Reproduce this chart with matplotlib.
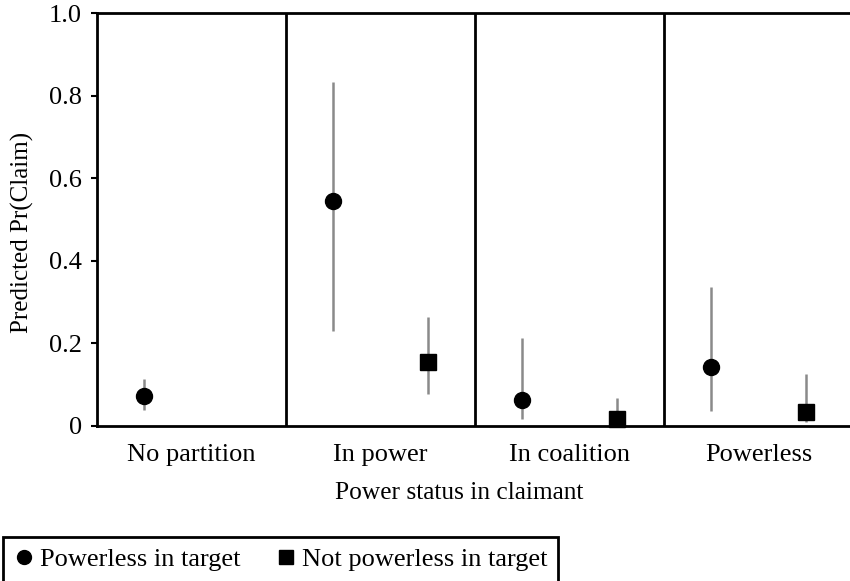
import matplotlib
matplotlib.use("Agg")
import matplotlib.pyplot as plt
import numpy as np

plt.rcParams['font.family'] = ['Liberation Serif', 'DejaVu Serif']

categories = ["No partition", "In power", "In coalition", "Powerless"]

# Powerless in target (circles), one per category
pl_cat = [0, 1, 2, 3]
pl_val = [0.073, 0.545, 0.063, 0.142]
pl_low = [0.039, 0.231, 0.016, 0.036]
pl_high = [0.113, 0.832, 0.214, 0.337]

# Not powerless in target (squares)
np_cat = [1, 2, 3]
np_val = [0.155, 0.017, 0.035]
np_low = [0.077, 0.000, 0.010]
np_high = [0.265, 0.069, 0.125]

yticks = [0, 0.2, 0.4, 0.6, 0.8, 1.0]
yticklabels = ["0", "0.2", "0.4", "0.6", "0.8", "1.0"]

W, H = 850, 581
fig = plt.figure(figsize=(W / 100, H / 100), dpi=100)
ax = fig.add_axes([97 / W, 1 - 426 / H, 756 / W, 413 / H])

offset = 0.25
err_color = "#8a8a8a"
x_pl = np.array(pl_cat) - offset
x_np = np.array(np_cat) + offset

ax.vlines(x_pl, pl_low, pl_high, color=err_color, lw=1.8, zorder=2)
ax.vlines(x_np, np_low, np_high, color=err_color, lw=1.8, zorder=2)
ax.plot(x_pl, pl_val, 'o', color='black', ms=11.5, ls='none', zorder=3,
        clip_on=False, label="Powerless in target")
ax.plot(x_np, np_val, 's', color='black', ms=11, ls='none', zorder=3,
        clip_on=False, label="Not powerless in target")

for b in [0.5, 1.5, 2.5]:
    ax.axvline(b, color='black', lw=2, zorder=1)

ax.set_xlim(-0.5, 3.5)
ax.set_ylim(0, 1.0)
ax.set_xticks(range(len(categories)))
ax.set_xticklabels(categories, fontsize=19)
ax.set_yticks(yticks)
ax.set_yticklabels(yticklabels, fontsize=19)
ax.tick_params(axis='x', length=0, pad=13)
ax.tick_params(axis='y', length=4, width=1.5, pad=7, direction='out')
for s in ax.spines.values():
    s.set_linewidth(2)

ax.set_xlabel("Power status in claimant", fontsize=18.3, labelpad=11.4,
              x=0.479)
fig.text(22 / W, 1 - 232 / H, "Predicted Pr(Claim)", rotation=90,
         ha='center', va='center', fontsize=18)

leg = fig.legend(loc='upper left', bbox_to_anchor=(3 / W, 1 - 537 / H),
                 ncol=2, fontsize=19, frameon=True, fancybox=False,
                 edgecolor='black', borderaxespad=0, borderpad=0.4,
                 handlelength=0.8, handletextpad=0.2, columnspacing=1.33,
                 markerscale=0.87)
leg.get_frame().set_linewidth(2)
leg.get_frame().set_alpha(1)

fig.savefig("out.png", dpi=100)
